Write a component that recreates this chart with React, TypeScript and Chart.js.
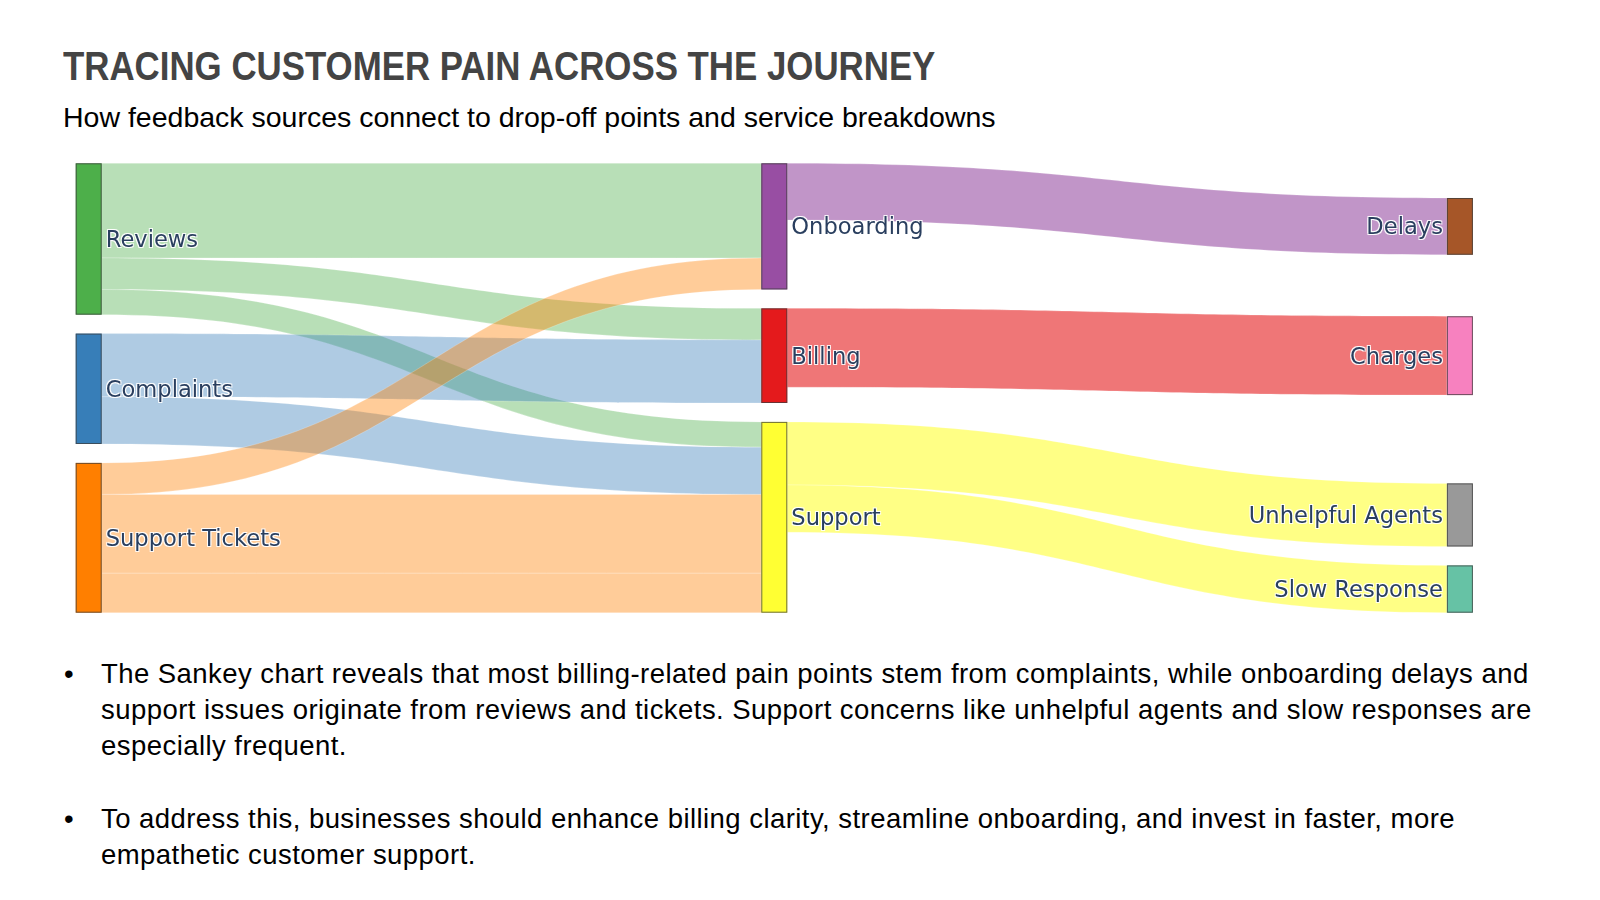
import React, { useEffect, useRef } from "react";
import { Chart, registerables } from "chart.js";

Chart.register(...registerables);

// ---------- data ----------
const nodeLabels = [
  "Reviews",
  "Complaints",
  "Support Tickets",
  "Onboarding",
  "Billing",
  "Support",
  "Delays",
  "Charges",
  "Unhelpful Agents",
  "Slow Response",
];
const nodeColumns = [0, 0, 0, 1, 1, 1, 2, 2, 2, 2];
const nodeColors = [
  "#4daf4a",
  "#377eb8",
  "#ff7f00",
  "#984ea3",
  "#e41a1c",
  "#ffff33",
  "#a65628",
  "#f781bf",
  "#999999",
  "#66c2a5",
];
const linkSources = [0, 0, 0, 1, 1, 2, 2, 2, 3, 4, 5, 5];
const linkTargets = [3, 4, 5, 4, 5, 3, 5, 5, 6, 7, 8, 9];
const linkValues = [60, 20, 16, 40, 30, 20, 50, 25, 36, 50, 40, 30];
const linkOpacityByColumn = [0.4, 0.6];
const columnCategories = [0, 1, 2];

const TITLE = "TRACING CUSTOMER PAIN ACROSS THE JOURNEY";
const SUBTITLE =
  "How feedback sources connect to drop-off points and service breakdowns";
const BULLETS = [
  "The Sankey chart reveals that most billing-related pain points stem from complaints, while onboarding delays and support issues originate from reviews and tickets. Support concerns like unhelpful agents and slow responses are especially frequent.",
  "To address this, businesses should enhance billing clarity, streamline onboarding, and invest in faster, more empathetic customer support.",
];

const NODE_PAD = 12; // gap between nodes, in value units
const NODE_WIDTH = 26; // px

function hexToRgba(hex: string, a: number) {
  const h = hex.replace("#", "");
  const r = parseInt(h.slice(0, 2), 16);
  const g = parseInt(h.slice(2, 4), 16);
  const b = parseInt(h.slice(4, 6), 16);
  return `rgba(${r},${g},${b},${a})`;
}

// ---------- layout (value units) ----------
function computeLayout() {
  const n = nodeLabels.length;
  const inSum = new Array(n).fill(0);
  const outSum = new Array(n).fill(0);
  linkValues.forEach((v, i) => {
    outSum[linkSources[i]] += v;
    inSum[linkTargets[i]] += v;
  });
  const nodeVal = inSum.map((v, i) => Math.max(v, outSum[i]));
  const cols: number[][] = [];
  nodeColumns.forEach((c, i) => {
    (cols[c] = cols[c] || []).push(i);
  });
  const yMax = Math.max(
    ...cols.map(
      (c) => c.reduce((s, i) => s + nodeVal[i], 0) + NODE_PAD * (c.length - 1)
    )
  );
  const y0 = new Array(n).fill(0);
  cols.forEach((col, ci) => {
    col.forEach((i, k) => {
      if (ci === 0) {
        let acc = 0;
        for (let j = 0; j < k; j++) acc += nodeVal[col[j]] + NODE_PAD;
        y0[i] = acc;
      } else {
        let ws = 0,
          wc = 0;
        linkValues.forEach((v, li) => {
          if (linkTargets[li] === i) {
            const s = linkSources[li];
            wc += v * (y0[s] + nodeVal[s] / 2);
            ws += v;
          }
        });
        y0[i] = (ws ? wc / ws : 0) - nodeVal[i] / 2;
      }
    });
    let prev = -NODE_PAD;
    col.forEach((i) => {
      if (y0[i] < prev + NODE_PAD) y0[i] = prev + NODE_PAD;
      prev = y0[i] + nodeVal[i];
    });
    let next = yMax + NODE_PAD;
    for (let k = col.length - 1; k >= 0; k--) {
      const i = col[k];
      if (y0[i] + nodeVal[i] > next - NODE_PAD)
        y0[i] = next - NODE_PAD - nodeVal[i];
      next = y0[i];
    }
  });
  const linkSy = new Array(linkValues.length).fill(0);
  const linkTy = new Array(linkValues.length).fill(0);
  for (let i = 0; i < n; i++) {
    const outs = linkValues
      .map((_, li) => li)
      .filter((li) => linkSources[li] === i)
      .sort((a, b) => y0[linkTargets[a]] - y0[linkTargets[b]] || a - b);
    let acc = y0[i];
    outs.forEach((li) => {
      linkSy[li] = acc;
      acc += linkValues[li];
    });
    const ins = linkValues
      .map((_, li) => li)
      .filter((li) => linkTargets[li] === i)
      .sort((a, b) => y0[linkSources[a]] - y0[linkSources[b]] || a - b);
    acc = y0[i];
    ins.forEach((li) => {
      linkTy[li] = acc;
      acc += linkValues[li];
    });
  }
  return { nodeVal, y0, yMax, linkSy, linkTy };
}

const layout = computeLayout();

const sankeyPlugin = {
  id: "sankeyDraw",
  afterDatasetsDraw(chart: any) {
    const ctx: CanvasRenderingContext2D = chart.ctx;
    const xs = chart.scales.x;
    const ys = chart.scales.y;
    const py = (v: number) => ys.getPixelForValue(v);
    const hw = NODE_WIDTH / 2;
    ctx.save();
    // links
    linkValues.forEach((v, li) => {
      const s = linkSources[li];
      const t = linkTargets[li];
      const x0 = xs.getPixelForValue(columnCategories[nodeColumns[s]]) + hw;
      const x1 = xs.getPixelForValue(columnCategories[nodeColumns[t]]) - hw;
      const xm = (x0 + x1) / 2;
      const sy0 = py(layout.linkSy[li]);
      const sy1 = py(layout.linkSy[li] + v);
      const ty0 = py(layout.linkTy[li]);
      const ty1 = py(layout.linkTy[li] + v);
      ctx.beginPath();
      ctx.moveTo(x0, sy0);
      ctx.bezierCurveTo(xm, sy0, xm, ty0, x1, ty0);
      ctx.lineTo(x1, ty1);
      ctx.bezierCurveTo(xm, ty1, xm, sy1, x0, sy1);
      ctx.closePath();
      ctx.fillStyle = hexToRgba(
        nodeColors[s],
        linkOpacityByColumn[nodeColumns[s]]
      );
      ctx.fill();
      ctx.strokeStyle = "rgba(255,255,255,0.35)";
      ctx.lineWidth = 0.6;
      ctx.stroke();
    });
    // nodes
    nodeLabels.forEach((_, i) => {
      const xc = xs.getPixelForValue(columnCategories[nodeColumns[i]]);
      const top = py(layout.y0[i]);
      const bot = py(layout.y0[i] + layout.nodeVal[i]);
      ctx.fillStyle = nodeColors[i];
      ctx.fillRect(xc - hw, top, NODE_WIDTH, bot - top);
      ctx.strokeStyle = "rgba(60,60,60,0.75)";
      ctx.lineWidth = 1;
      ctx.strokeRect(xc - hw + 0.5, top + 0.5, NODE_WIDTH - 1, bot - top - 1);
    });
    // labels
    ctx.font = '22.6px "DejaVu Sans"';
    ctx.textBaseline = "middle";
    const lastCol = Math.max(...nodeColumns);
    nodeLabels.forEach((label, i) => {
      const xc = xs.getPixelForValue(columnCategories[nodeColumns[i]]);
      const ym = py(layout.y0[i] + layout.nodeVal[i] / 2) + 2;
      const right = nodeColumns[i] === lastCol;
      ctx.textAlign = right ? "right" : "left";
      const tx = right ? xc - hw - 4 : xc + hw + 4;
      ctx.fillStyle = "rgba(255,255,255,0.9)";
      [
        [1, 1],
        [-1, -1],
        [1, -1],
        [-1, 1],
      ].forEach(([dx, dy]) => ctx.fillText(label, tx + dx, ym + dy));
      ctx.fillStyle = "#2a3f5f";
      ctx.fillText(label, tx, ym);
    });
    ctx.restore();
  },
};

function SankeyCanvas() {
  const ref = useRef<HTMLCanvasElement | null>(null);
  useEffect(() => {
    if (!ref.current) return;
    const chart = new Chart(ref.current, {
      type: "scatter",
      data: { datasets: [{ data: [] }] },
      options: {
        animation: false,
        responsive: false,
        devicePixelRatio: 1,
        layout: {
          padding: { left: 88.7, right: 140.1, top: 13.3, bottom: 17.3 },
        },
        plugins: {
          legend: { display: false },
          tooltip: { enabled: false },
        },
        scales: {
          x: {
            type: "linear",
            min: columnCategories[0],
            max: columnCategories[columnCategories.length - 1],
            display: false,
          },
          y: {
            type: "linear",
            min: 0,
            max: layout.yMax,
            reverse: true,
            display: false,
          },
        },
      },
      plugins: [sankeyPlugin],
    } as any);
    return () => chart.destroy();
  }, []);
  return (
    <canvas
      ref={ref}
      width={1600}
      height={480}
      style={{ position: "absolute", left: 0, top: 150, width: 1600, height: 480 }}
    />
  );
}

export default function App() {
  const sans = '"Liberation Sans", Arial, sans-serif';
  return (
    <div
      style={{
        position: "absolute",
        left: 0,
        top: 0,
        width: 1600,
        height: 900,
        background: "#fff",
        overflow: "hidden",
      }}
    >
      <div
        style={{
          position: "absolute",
          left: 63,
          top: 45.5,
          fontFamily: sans,
          fontWeight: 700,
          fontSize: 40,
          lineHeight: "40px",
          color: "#444444",
          whiteSpace: "nowrap",
          transform: "scaleX(0.871)",
          transformOrigin: "0 0",
        }}
      >
        {TITLE}
      </div>
      <div
        style={{
          position: "absolute",
          left: 63,
          top: 103.4,
          fontFamily: sans,
          fontSize: 28.5,
          lineHeight: "28.5px",
          color: "#000",
          whiteSpace: "nowrap",
        }}
      >
        {SUBTITLE}
      </div>
      <SankeyCanvas />
      <div
        style={{
          position: "absolute",
          left: 0,
          top: 655.5,
          width: 1600,
          fontFamily: sans,
          fontSize: 27.5,
          letterSpacing: "0.45px",
          lineHeight: "36.3px",
          color: "#000",
        }}
      >
        {BULLETS.map((b, i) => (
          <div
            key={i}
            style={{ position: "relative", marginBottom: i === 0 ? 36.3 : 0 }}
          >
            <span style={{ position: "absolute", left: 64 }}>•</span>
            <div style={{ marginLeft: 101, width: 1465 }}>{b}</div>
          </div>
        ))}
      </div>
    </div>
  );
}
